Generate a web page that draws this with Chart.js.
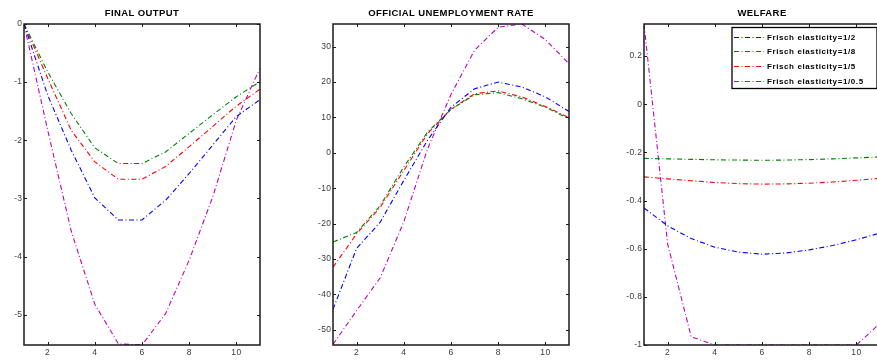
<!DOCTYPE html>
<html>
<head>
<meta charset="utf-8">
<script src="https://cdn.jsdelivr.net/npm/chart.js@4.4.1/dist/chart.umd.min.js"></script>
<style>
    html, body { margin: 0; padding: 0; background: #fff; }
    body { width: 877px; height: 360px; overflow: hidden; position: relative; }
    .panel { position: absolute; top: 0; width: 270px; height: 360px; }
</style>
</head>
<body>
<div class="panel" style="left:-6px"><canvas id="outputChart" width="270" height="360"></canvas></div>
<div class="panel" style="left:303px"><canvas id="unemploymentChart" width="270" height="360"></canvas></div>
<div class="panel" style="left:614px"><canvas id="welfareChart" width="270" height="360"></canvas></div>
<script>
// periods on the x axis
const periods = [1, 2, 3, 4, 5, 6, 7, 8, 9, 10, 11];
const xTicks = [2, 4, 6, 8, 10];

const seriesLabels = [
    "Frisch elasticity=1/2",
    "Frisch elasticity=1/8",
    "Frisch elasticity=1/5",
    "Frisch elasticity=1/0.5",
];
const seriesColors = ["#0000ff", "#008000", "#ff0000", "#bf00bf"];

// FINAL OUTPUT
const outputHalf = [0, -1.22, -2.17, -2.99, -3.37, -3.37, -3.03, -2.57, -2.08, -1.59, -1.30];
const outputEighth = [0, -0.82, -1.54, -2.13, -2.40, -2.40, -2.20, -1.88, -1.56, -1.25, -0.99];
const outputFifth = [0, -0.93, -1.83, -2.37, -2.67, -2.67, -2.45, -2.11, -1.76, -1.41, -1.12];
const outputTwo = [0, -1.82, -3.56, -4.82, -5.50, -5.52, -4.98, -4.06, -2.97, -1.65, -0.76];
const outputTicks = [0, -1, -2, -3, -4, -5];

// OFFICIAL UNEMPLOYMENT RATE
const unempHalf = [-44.2, -27.0, -19.6, -7.8, 3.5, 12.9, 18.1, 20.0, 18.6, 15.8, 11.7];
const unempEighth = [-25.2, -22.5, -14.9, -4.0, 5.8, 12.3, 16.4, 17.0, 15.3, 12.9, 9.6];
const unempFifth = [-32.3, -22.9, -15.4, -5.0, 5.4, 12.3, 16.7, 17.5, 15.8, 13.1, 9.9];
const unempTwo = [-54.1, -44.6, -35.3, -19.5, 1.0, 16.5, 29.0, 35.5, 36.4, 32.0, 25.2];
const unempTicks = [30, 20, 10, 0, -10, -20, -30, -40, -50];

// WELFARE
const welfareHalf = [-0.431, -0.505, -0.558, -0.594, -0.614, -0.623, -0.618, -0.605, -0.587, -0.563, -0.535];
const welfareEighth = [-0.225, -0.227, -0.229, -0.231, -0.232, -0.233, -0.232, -0.230, -0.227, -0.223, -0.219];
const welfareFifth = [-0.302, -0.310, -0.318, -0.325, -0.330, -0.332, -0.331, -0.328, -0.323, -0.316, -0.308];
const welfareTwo = [0.333, -0.58, -0.966, -1.0, -1.0, -1.0, -1.0, -1.0, -1.0, -1.0, -0.91];
const welfareTicks = [0.2, 0, -0.2, -0.4, -0.6, -0.8, -1];

const fontFamily = "'Liberation Sans', Arial, sans-serif";
Chart.defaults.font.family = fontFamily;
Chart.defaults.font.size = 8.5;
Chart.defaults.color = "#3a3a3a";

const dashDot = [5, 2.5, 1, 2.5];

// the exported figure has loose letter spacing
const spacingPlugin = {
    id: "spacing",
    beforeDraw(chart) {
        chart.ctx.letterSpacing = "0.4px";
    },
};

// box around the plot with inward ticks on all four sides
const framePlugin = {
    id: "frame",
    afterDatasetsDraw(chart) {
        const { ctx, chartArea: area, scales } = chart;
        ctx.save();
        ctx.strokeStyle = "#1a1a1a";
        ctx.lineWidth = 1;
        ctx.beginPath();
        scales.x.ticks.forEach((tick) => {
            const px = Math.round(scales.x.getPixelForValue(tick.value)) + 0.5;
            ctx.moveTo(px, area.bottom);
            ctx.lineTo(px, area.bottom - 3);
            ctx.moveTo(px, area.top);
            ctx.lineTo(px, area.top + 3);
        });
        scales.y.ticks.forEach((tick) => {
            const py = Math.round(scales.y.getPixelForValue(tick.value)) + 0.5;
            ctx.moveTo(area.left, py);
            ctx.lineTo(area.left + 3, py);
            ctx.moveTo(area.right, py);
            ctx.lineTo(area.right - 3, py);
        });
        ctx.stroke();
        ctx.lineWidth = 1.5;
        ctx.strokeRect(area.left, area.top, area.right - area.left, area.bottom - area.top);
        ctx.restore();
    },
};

// boxed legend inside the plot (top right)
const boxLegendPlugin = {
    id: "boxLegend",
    afterDraw(chart) {
        const { ctx } = chart;
        const left = 118, top = 27.5, width = 145, height = 61;
        ctx.save();
        ctx.fillStyle = "#fff";
        ctx.fillRect(left, top, width, height);
        ctx.strokeStyle = "#000";
        ctx.lineWidth = 1.3;
        ctx.strokeRect(left, top, width, height);
        ctx.font = "bold 8px " + fontFamily;
        ctx.letterSpacing = "0.6px";
        ctx.textBaseline = "middle";
        ctx.textAlign = "left";
        chart.data.datasets.forEach((dataset, index) => {
            const y = Math.round(36.5 + index * 14.8) + 0.5;
            ctx.strokeStyle = seriesColors[index];
            ctx.lineWidth = 1.2;
            ctx.setLineDash(dashDot);
            ctx.beginPath();
            ctx.moveTo(120, y);
            ctx.lineTo(150, y);
            ctx.stroke();
            ctx.setLineDash([]);
            ctx.fillStyle = "#000";
            ctx.fillText(dataset.label, 153, y);
        });
        ctx.restore();
    },
};

function buildDatasets(seriesList) {
    return seriesList.map((values, index) => ({
        label: seriesLabels[index],
        data: periods.map((x, i) => ({ x, y: values[i] })),
        borderColor: seriesColors[index],
        backgroundColor: seriesColors[index],
        borderWidth: 1.1,
        borderDash: dashDot,
        pointRadius: 0,
        tension: 0,
        fill: false,
    }));
}

function makeChart(canvasId, title, seriesList, yMin, yMax, yTicks, extraPlugins) {
    return new Chart(document.getElementById(canvasId), {
        type: "line",
        data: { datasets: buildDatasets(seriesList) },
        options: {
            responsive: false,
            animation: false,
            events: [],
            layout: { padding: { left: 0, right: 4, top: 0, bottom: 0 } },
            plugins: {
                legend: { display: false },
                tooltip: { enabled: false },
                title: {
                    display: true,
                    text: title,
                    fullSize: false,
                    color: "#000",
                    font: { size: 9.5, weight: "bold" },
                    padding: { top: 7.5, bottom: 5.1 },
                },
            },
            scales: {
                x: {
                    type: "linear",
                    min: 1,
                    max: 11,
                    grid: { display: false, drawTicks: false },
                    border: { display: false },
                    ticks: { padding: 2.5, maxRotation: 0, callback: (value) => String(value) },
                    afterBuildTicks: (axis) => { axis.ticks = xTicks.map((value) => ({ value })); },
                    afterFit: (axis) => { axis.height = 15; },
                },
                y: {
                    type: "linear",
                    min: yMin,
                    max: yMax,
                    grid: { display: false, drawTicks: false },
                    border: { display: false },
                    ticks: { padding: 1.5, callback: (value) => String(value) },
                    afterBuildTicks: (axis) => { axis.ticks = yTicks.map((value) => ({ value })); },
                    afterFit: (axis) => { axis.width = 30; },
                },
            },
        },
        plugins: [spacingPlugin, framePlugin].concat(extraPlugins || []),
    });
}

makeChart("outputChart", "FINAL OUTPUT",
    [outputHalf, outputEighth, outputFifth, outputTwo], -5.52, 0, outputTicks);
makeChart("unemploymentChart", "OFFICIAL UNEMPLOYMENT RATE",
    [unempHalf, unempEighth, unempFifth, unempTwo], -54.3, 36.4, unempTicks);
makeChart("welfareChart", "WELFARE",
    [welfareHalf, welfareEighth, welfareFifth, welfareTwo], -1, 0.333, welfareTicks, [boxLegendPlugin]);
</script>
</body>
</html>
